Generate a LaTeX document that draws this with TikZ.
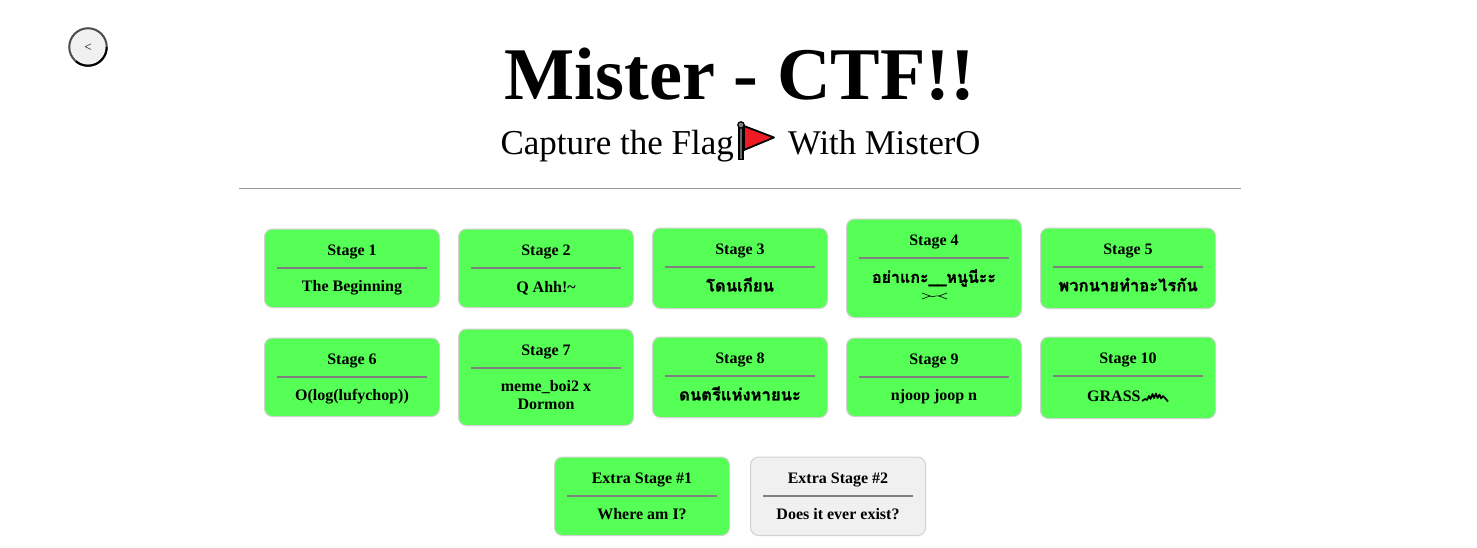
\documentclass[tikz,border=0pt]{standalone}
\usepackage{fontspec}
\setmainfont{Liberation Serif}
\newfontfamily\thaifont[Script=Thai,BoldFeatures={FakeBold=1.2}]{Loma}
\tikzset{
  x=1pt,y=-1pt,
  card/.style={draw=black!18,line width=1pt,rounded corners=8pt,fill=stagegreen},
  cardoff/.style={draw=black!18,line width=1pt,rounded corners=8pt,fill=offgray},
  rulebar/.style={draw=rulegray,line width=2.4pt},
  lbl/.style={inner sep=0pt,font=\fontsize{16}{18}\selectfont\bfseries,align=center,anchor=center},
  tlbl/.style={inner sep=0pt,font=\fontsize{16.6}{18}\selectfont\thaifont\bfseries,align=center,anchor=center},
  mark4/.style={draw=black,line width=.6pt}
}
\definecolor{stagegreen}{HTML}{55FF55}
\definecolor{offgray}{HTML}{F0F0F0}
\definecolor{rulegray}{HTML}{808080}
\definecolor{flagred}{HTML}{ED1C24}
\newcommand{\stagecard}[9]{%
  \draw[card] (#3,#2) rectangle (#3+175,#4);
  \draw[rulebar] (#3+12.5,#5) -- (#3+162.5,#5);
  \node[lbl] (#1t) at (#3+87.5,#6+2) {#7};
  #9
}
\begin{document}
\begin{tikzpicture}
\useasboundingbox (0,0) rectangle (1477,548);
\fill[white] (0,0) rectangle (1477,548);
% back button
\node[circle,draw=black!70,line width=2pt,outer sep=0pt,fill=offgray,minimum size=37.5pt,inner sep=0pt] (back) at (88,47) {};
\draw[black,line width=2pt] (back.230) arc[start angle=230,end angle=360,radius=18.75pt];
\node[inner sep=0pt,font=\fontsize{13}{13}\selectfont] (backlbl) at (88,48) {<};
% heading
\node[inner sep=0pt,font=\fontsize{74.3}{80}\selectfont\bfseries] (title) at (740,74) {Mister - CTF!!};
\node[inner sep=0pt,anchor=base east,font=\fontsize{35}{40}\selectfont] (sub1) at (734,154.5) {Capture the Flag};
\node[inner sep=0pt,anchor=base west,font=\fontsize{34.7}{40}\selectfont] (sub2) at (788,154.5) {With MisterO};
% flag
\draw[black,line width=6pt] (741,126) -- (741,160.5);
\draw[black!60,line width=2pt] (741,127) -- (741,159.5);
\draw[black,fill=black!50,line width=1.2pt] (741,125) circle (3.2pt);
\draw[black,line width=1.8pt,line join=round,fill=flagred] (744,126) -- (774,137.5) -- (744,150) -- cycle;
\draw[rulegray!80,line width=1pt] (239,188.5) -- (1241,188.5);
% row 1
\stagecard{s1}{229}{264.5}{307.5}{268}{250}{Stage 1}{286}{\node[lbl] (s1b) at (352,288) {The Beginning};}
\stagecard{s2}{229}{458.5}{307.5}{268}{250}{Stage 2}{286}{\node[lbl] (s2b) at (546,288) {Q Ahh!\char"007E};}
\stagecard{s3}{228}{652.5}{308.5}{267}{249}{Stage 3}{286}{\node[tlbl] (s3b) at (740,284.5) {โดนเกียน};}
\stagecard{s4}{219}{846.5}{317.5}{258}{240}{Stage 4}{278}{\node[tlbl,font=\fontsize{16}{18}\selectfont\thaifont\bfseries] (s4b) at (934,278) {อย่าแกะ\_\_หนูนีะะ};
  \draw[mark4] (922,293) -- (930,296) -- (922,299);
  \draw[mark4] (947,293) -- (939,296) -- (947,299);
  \draw[mark4] (930,296) .. controls (932,298) and (936,295) .. (939,296);}
\stagecard{s5}{228}{1040.5}{308.5}{267}{249}{Stage 5}{287}{\node[tlbl] (s5b) at (1128,284.5) {พวกนายทำอะไรกัน};}
% row 2
\stagecard{s6}{338}{264.5}{416.5}{377}{359}{Stage 6}{395}{\node[lbl] (s6b) at (352,397) {O(log(lufychop))};}
\stagecard{s7}{329}{458.5}{425.5}{368}{350}{Stage 7}{386}{\node[lbl] (s7b) at (546,395) {meme\_boi2 x\\[0pt]Dormon};}
\stagecard{s8}{337}{652.5}{417.5}{376}{358}{Stage 8}{396}{\node[tlbl] (s8b) at (740,393.5) {ดนตรีแห่งหายนะ};}
\stagecard{s9}{338}{846.5}{416.5}{377}{359}{Stage 9}{395}{\node[lbl] (s9b) at (934,397) {njoop joop n};}
\stagecard{s10}{337}{1040.5}{418.5}{376}{358}{Stage 10}{396}{\node[lbl,anchor=base west] (s10b) at (1087,401.5) {GRASS};
  \draw[black,line width=1.7pt,line join=round] (1142,401) -- (1145,399) -- (1147,400) -- (1149,396) -- (1150.5,399) -- (1152.5,394) -- (1154,398) -- (1156,393.5) -- (1157.5,398) -- (1159.5,394.5) -- (1161,398.5) -- (1163,396) -- (1165,398) -- (1168,401.5);}
% row 3
\stagecard{e1}{457}{554.5}{535.5}{496}{478}{Extra Stage \#1}{514}{\node[lbl] (e1b) at (642,514) {Where am I?};}
\draw[cardoff] (750.5,457) rectangle (925.5,535.5);
\draw[rulebar] (763,496) -- (913,496);
\node[lbl] (e2t) at (838,480) {Extra Stage \#2};
\node[lbl] (e2b) at (838,514) {Does it ever exist?};
\end{tikzpicture}
\end{document}
